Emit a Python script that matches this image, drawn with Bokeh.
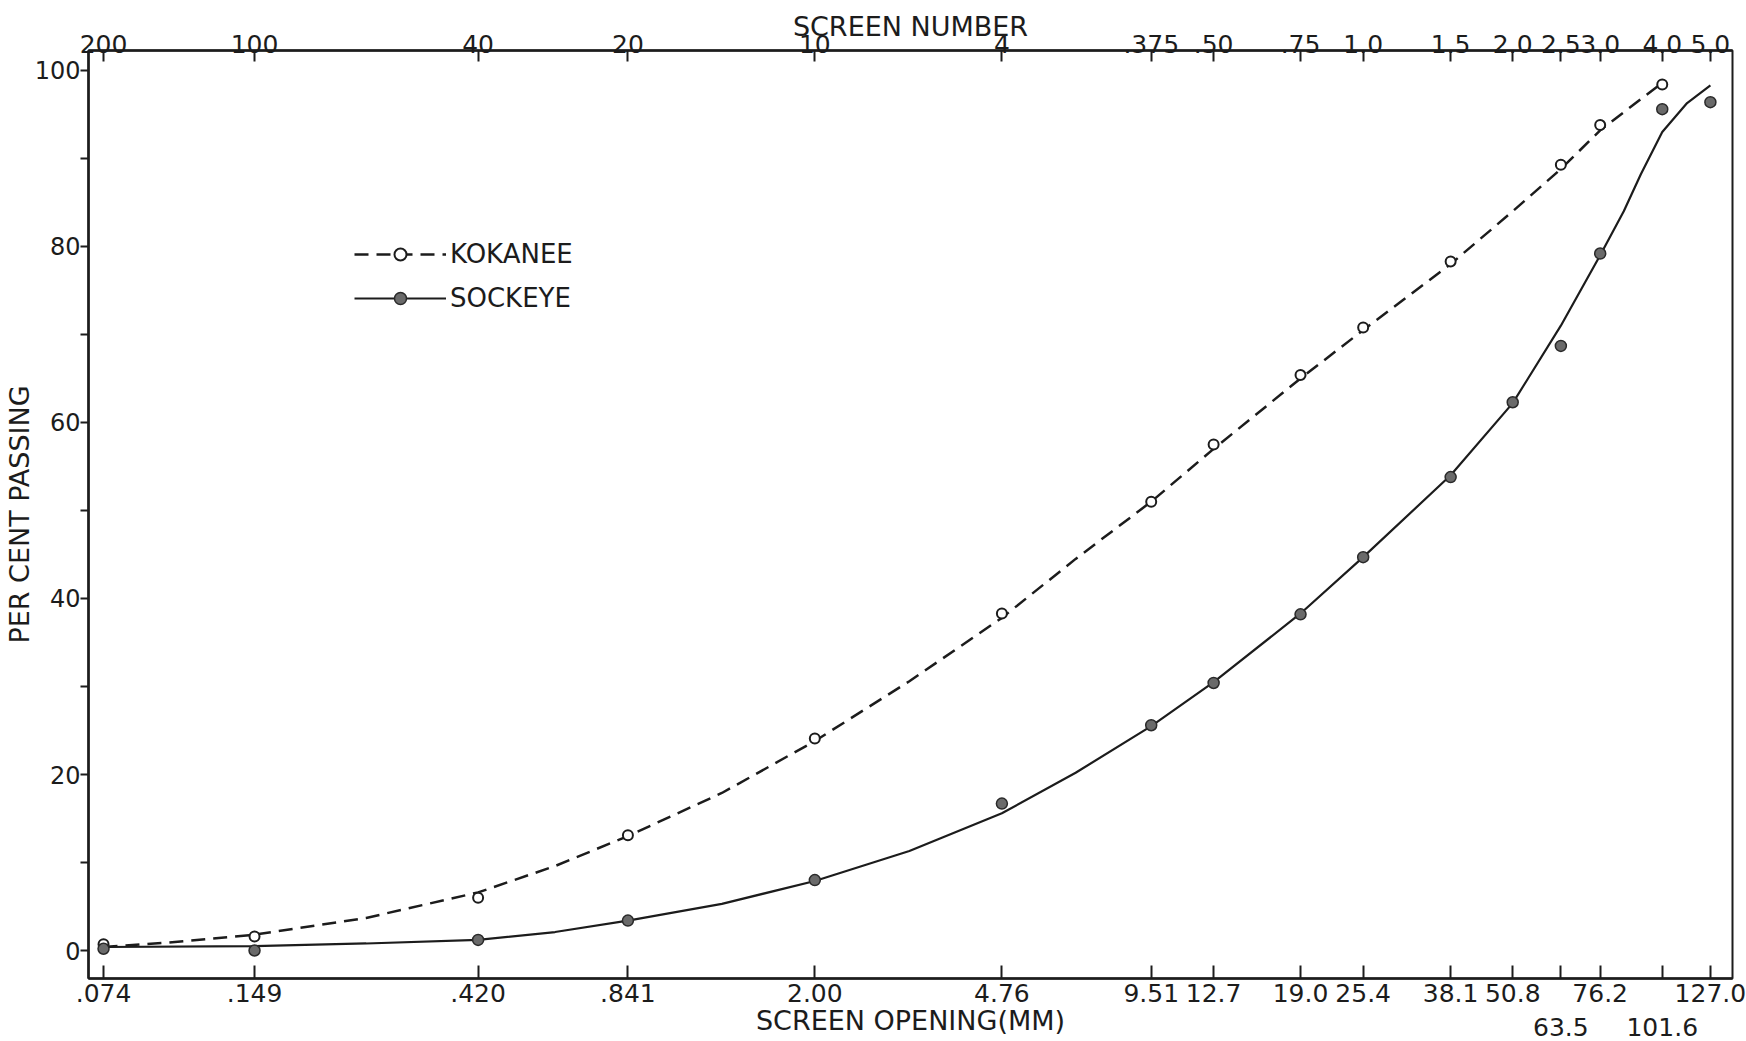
from bokeh.plotting import figure
from bokeh.models import LogAxis, FixedTicker, Range1d, Legend, LegendItem
from bokeh.embed import file_html
from bokeh.resources import INLINE

# ---- data ----
opening_mm = [0.074, 0.149, 0.420, 0.841, 2.00, 4.76, 9.51, 12.7, 19.0, 25.4,
              38.1, 50.8, 63.5, 76.2, 101.6, 127.0]
opening_labels = [".074", ".149", ".420", ".841", "2.00", "4.76", "9.51", "12.7",
                  "19.0", "25.4", "38.1", "50.8", "\n63.5", "76.2", "\n101.6", "127.0"]
screen_numbers = ["200", "100", "40", "20", "10", "4", ".375", ".50", ".75", "1.0",
                  "1.5", "2.0", "2.5", "3.0", "4.0", "5.0"]

y_ticks = [0, 20, 40, 60, 80, 100]
y_minor = [10, 30, 50, 70, 90]

kokanee_x = [0.074, 0.149, 0.420, 0.841, 2.00, 4.76, 9.51, 12.7, 19.0, 25.4,
             38.1, 63.5, 76.2, 101.6]
kokanee_y = [0.7, 1.6, 6.0, 13.1, 24.1, 38.3, 51.0, 57.5, 65.4, 70.8,
             78.3, 89.3, 93.8, 98.4]

sockeye_x = [0.074, 0.149, 0.420, 0.841, 2.00, 4.76, 9.51, 12.7, 19.0, 25.4,
             38.1, 50.8, 63.5, 76.2, 101.6, 127.0]
sockeye_y = [0.2, 0.0, 1.2, 3.4, 8.0, 16.7, 25.6, 30.4, 38.2, 44.7,
             53.8, 62.3, 68.7, 79.2, 95.6, 96.4]

# hand-drawn fitted curves
kokanee_curve_x = [0.074, 0.10, 0.149, 0.25, 0.420, 0.60, 0.841, 1.3, 2.00, 3.1,
                   4.76, 6.7, 9.51, 12.7, 19.0, 25.4, 38.1, 50.8, 63.5, 76.2, 101.6]
kokanee_curve_y = [0.4, 0.9, 1.8, 3.7, 6.6, 9.6, 13.0, 17.9, 23.8, 30.6,
                   37.8, 44.5, 51.0, 57.0, 65.0, 70.5, 78.0, 84.0, 88.8, 93.2, 98.6]

sockeye_curve_x = [0.074, 0.149, 0.25, 0.420, 0.60, 0.841, 1.3, 2.00, 3.1, 4.76,
                   6.7, 9.51, 12.7, 19.0, 25.4, 38.1, 50.8, 63.5, 76.2, 85.0,
                   92.0, 101.6, 114.0, 127.0]
sockeye_curve_y = [0.4, 0.5, 0.8, 1.2, 2.1, 3.4, 5.3, 7.9, 11.3, 15.6,
                   20.2, 25.5, 30.5, 38.3, 44.7, 54.0, 62.2, 71.0, 79.0, 84.0,
                   88.2, 93.0, 96.3, 98.3]

INK = "#1c1c1c"
FONT = "DejaVu Sans"

p = figure(width=1746, height=1041, x_axis_type="log",
           x_range=Range1d(0.06902, 140.7), y_range=Range1d(-3.18, 102.27),
           output_backend="svg", toolbar_location=None, title=None,
           min_border_left=88, min_border_right=14, min_border_top=50,
           min_border_bottom=63)
p.background_fill_color = "white"
p.border_fill_color = "white"
p.outline_line_color = INK
p.outline_line_width = 2
p.xgrid.visible = False
p.ygrid.visible = False

# bottom axis
bx = p.xaxis[0]
bx.ticker = FixedTicker(ticks=opening_mm, minor_ticks=[])
bx.major_label_overrides = dict(zip(opening_mm, opening_labels))
bx.axis_label = "SCREEN OPENING(MM)"
bx.major_tick_in = 13
bx.major_tick_out = 0
bx.minor_tick_in = 0
bx.minor_tick_out = 0
bx.major_label_standoff = 0
bx.axis_label_standoff = -40
bx.major_label_text_font_size = "25px"

# top axis
tx = LogAxis(ticker=FixedTicker(ticks=opening_mm, minor_ticks=[]),
             major_label_overrides=dict(zip(opening_mm, screen_numbers)),
             axis_label="SCREEN NUMBER")
tx.major_tick_in = 11
tx.major_tick_out = 0
tx.minor_tick_in = 0
tx.minor_tick_out = 0
tx.major_label_standoff = -2
tx.axis_label_standoff = -10
tx.major_label_text_font_size = "25px"
p.add_layout(tx, "above")

# left axis
ly = p.yaxis[0]
ly.ticker = FixedTicker(ticks=y_ticks, minor_ticks=y_minor)
ly.axis_label = "PER CENT PASSING"
ly.major_tick_in = 0
ly.major_tick_out = 8
ly.minor_tick_in = 0
ly.minor_tick_out = 8
ly.major_label_standoff = 0
ly.axis_label_standoff = -3
ly.major_label_text_font_size = "24px"

for ax in (bx, tx, ly):
    ax.axis_line_color = INK
    ax.axis_line_width = 2.5
    ax.major_tick_line_color = INK
    ax.major_tick_line_width = 2
    ax.minor_tick_line_color = INK
    ax.minor_tick_line_width = 2
    ax.major_label_text_font = FONT
    ax.major_label_text_color = INK
    ax.axis_label_text_font = FONT
    ax.axis_label_text_font_size = "27px"
    ax.axis_label_text_font_style = "normal"
    ax.axis_label_text_color = INK

# series
k_line = p.line(kokanee_curve_x, kokanee_curve_y, line_color=INK, line_width=2.5,
                line_dash="14 8")
k_pts = p.scatter(kokanee_x, kokanee_y, marker="circle", size=10,
                  fill_color="white", line_color=INK, line_width=2)
s_line = p.line(sockeye_curve_x, sockeye_curve_y, line_color=INK, line_width=2.2)
s_pts = p.scatter(sockeye_x, sockeye_y, marker="circle", size=11,
                  fill_color="#6a6a6a", line_color="#2a2a2a", line_width=1.5)

legend = Legend(items=[LegendItem(label="KOKANEE", renderers=[k_line, k_pts]),
                       LegendItem(label="SOCKEYE", renderers=[s_line, s_pts])],
                location=(266, 665), orientation="vertical",
                glyph_width=92, glyph_height=30, label_standoff=4, spacing=14,
                padding=0, margin=0, label_height=30,
                background_fill_alpha=0, border_line_alpha=0,
                label_text_font=FONT, label_text_font_size="26px",
                label_text_color=INK)
p.add_layout(legend)

open("out.html", "w").write(file_html(p, INLINE))
